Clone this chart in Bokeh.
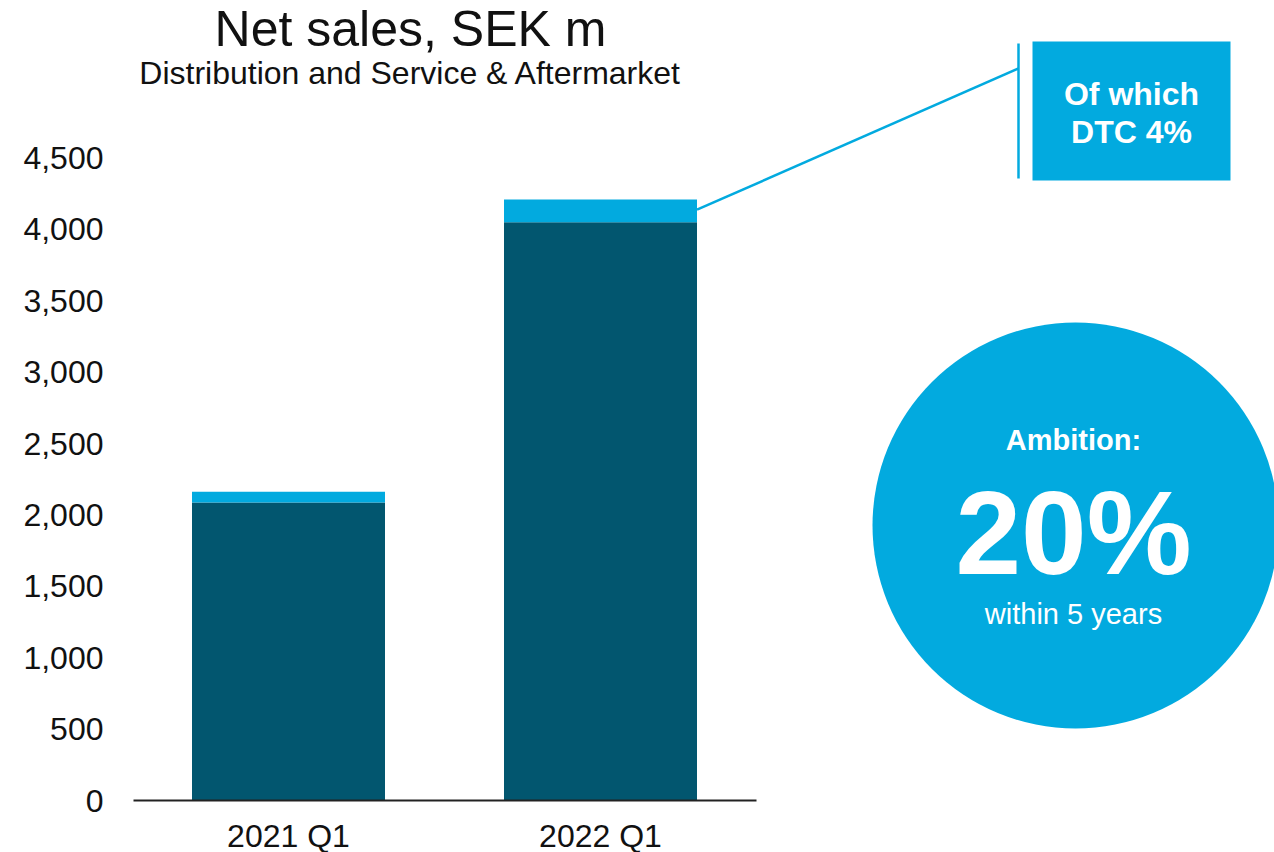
from bokeh.plotting import figure
from bokeh.models import Range1d, FixedTicker, ColumnDataSource, NumeralTickFormatter
from bokeh.core.properties import value
from bokeh.embed import file_html
from bokeh.resources import INLINE

# ---- data ----
quarters = ["2021 Q1", "2022 Q1"]
other_sales = [2088, 4050]      # dark part
dtc_sales = [75, 160]           # direct-to-consumer (light part)
y_ticks = [0, 500, 1000, 1500, 2000, 2500, 3000, 3500, 4000, 4500]
callout_text = ["Of which", "DTC 4%"]
ambition_text = ["Ambition:", "20%", "within 5 years"]

DARK = "#02566F"
LIGHT = "#02AADF"
FONT = value("Liberation Sans")

# ---- layout (image pixels -> data) ----
W, H = 1274, 852
OFF = 0
LEFT = 133
PX_PER_CAT = 312.0
PX_PER_UNIT = 642.5 / 4500.0
X0_IMG = 288.0   # image x of first category
Y0_IMG = 800.0   # image y of value 0


def dx(px):
    return (px - X0_IMG) / PX_PER_CAT


def dy(py):
    return (Y0_IMG - py) / PX_PER_UNIT


p = figure(width=W, height=H, output_backend="svg", toolbar_location=None,
           x_axis_location=None, min_border_left=LEFT, min_border_right=0,
           min_border_top=0, min_border_bottom=0,
           x_range=Range1d(dx(OFF + LEFT), dx(OFF + W)),
           y_range=Range1d(dy(OFF + H), dy(OFF)))
p.outline_line_color = None
p.xgrid.visible = False
p.ygrid.visible = False
p.background_fill_color = "white"
p.border_fill_color = "white"

xs = list(range(len(quarters)))
totals = [a + b for a, b in zip(other_sales, dtc_sales)]
src = ColumnDataSource(dict(x=xs, other=other_sales, total=totals, q=quarters,
                            zero=[0] * len(xs)))

bar_w = 193 / PX_PER_CAT
p.vbar(x="x", width=bar_w, bottom="zero", top="other", source=src,
       fill_color=DARK, line_color=None)
p.vbar(x="x", width=bar_w, bottom="other", top="total", source=src,
       fill_color=LIGHT, line_color=None)

# baseline
p.segment(x0=[-0.5], y0=[0], x1=[len(quarters) - 0.5], y1=[0],
          line_color="#222222", line_width=2)

# category labels
p.text(x="x", y=dy(835), text="q", source=src, text_font=FONT,
       text_font_size="32px", text_color="#111111", text_align="center",
       text_baseline="middle")

# y axis
ax = p.yaxis[0]
ax.ticker = FixedTicker(ticks=y_ticks)
ax.formatter = NumeralTickFormatter(format="0,0")
ax.axis_line_color = None
ax.major_tick_line_color = None
ax.minor_tick_line_color = None
ax.major_tick_out = 0
ax.major_tick_in = 0
ax.major_label_standoff = 30
ax.major_label_text_font = "Liberation Sans"
ax.major_label_text_font_size = "32px"
ax.major_label_text_color = "#111111"

# titles
p.text(x=[dx(410)], y=[dy(28)], text=["Net sales, SEK m"], text_font=FONT,
       text_font_size="50px", text_color="#111111", text_align="center",
       text_baseline="middle")
p.text(x=[dx(410)], y=[dy(72)], text=["Distribution and Service & Aftermarket"],
       text_font=FONT, text_font_size="32px", text_color="#111111",
       text_align="center", text_baseline="middle")

# callout
i2 = len(quarters) - 1
p.segment(x0=[i2 + bar_w / 2], y0=[other_sales[i2] + dtc_sales[i2] * 0.55],
          x1=[dx(1018)], y1=[dy(68)], line_color=LIGHT, line_width=2.5)
p.segment(x0=[dx(1018)], y0=[dy(43)], x1=[dx(1018)], y1=[dy(178)],
          line_color=LIGHT, line_width=2.5)
p.quad(left=[dx(1032)], right=[dx(1230)], top=[dy(41)], bottom=[dy(180)],
       fill_color=LIGHT, line_color=None)
p.text(x=[dx(1131), dx(1131)], y=[dy(93), dy(131)], text=callout_text,
       text_font=FONT, text_font_size="32px", text_font_style="bold",
       text_color="white", text_align="center", text_baseline="middle")

# ambition circle
p.scatter(x=[dx(1075)], y=[dy(525)], size=406, marker="circle",
          fill_color=LIGHT, line_color=None)
p.text(x=[dx(1073)], y=[dy(439)], text=[ambition_text[0]], text_font=FONT,
       text_font_size="29px", text_font_style="bold", text_color="white",
       text_align="center", text_baseline="middle")
p.text(x=[dx(1073)], y=[dy(532)], text=[ambition_text[1]], text_font=FONT,
       text_font_size="118px", text_font_style="bold", text_color="white",
       text_align="center", text_baseline="middle")
p.text(x=[dx(1073)], y=[dy(613)], text=[ambition_text[2]], text_font=FONT,
       text_font_size="29px", text_color="white", text_align="center",
       text_baseline="middle")

open("out.html", "w").write(file_html(p, INLINE))
